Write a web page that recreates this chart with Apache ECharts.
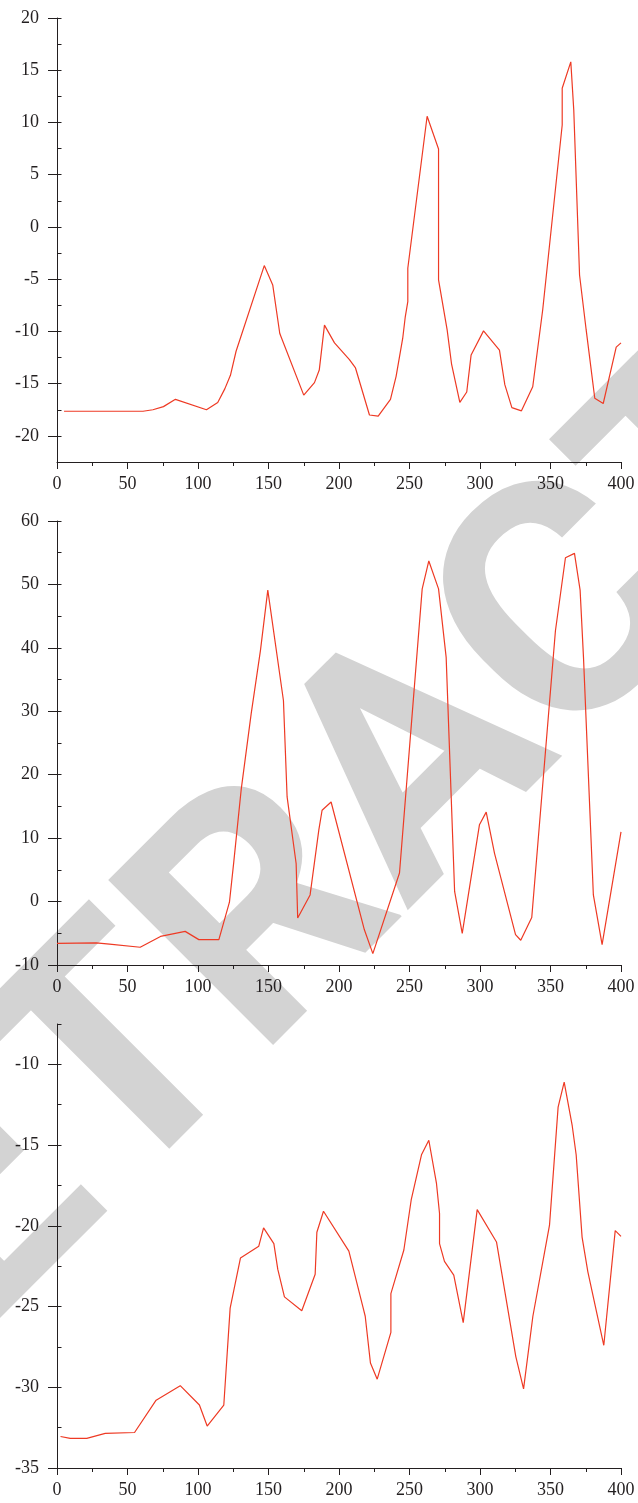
<!DOCTYPE html>
<html>
<head>
<meta charset="utf-8">
<script src="https://cdn.jsdelivr.net/npm/echarts@6/dist/echarts.min.js"></script>
<style>
html,body{margin:0;padding:0;background:#fff;}
#chart{width:638px;height:1503px;}
</style>
</head>
<body>
<div id="chart"></div>
<script>
// ---- data ----
const xTicks = [0, 50, 100, 150, 200, 250, 300, 350, 400];

const yTicks1 = [-20, -15, -10, -5, 0, 5, 10, 15, 20];
const x1 = [5, 61, 68, 75.5, 84, 106, 114, 119, 123, 127, 147, 153, 158, 175, 182.6, 186, 189.7, 196.8, 207.4, 211.7, 221.6, 227.8, 236.5, 240.5, 245.2, 247, 248.8, 248.8, 262.5, 270.6, 270.6, 276.7, 279.8, 285.7, 290.6, 293.7, 302.5, 313.8, 317.6, 322.6, 329.4, 337.4, 344.5, 358.3, 358.3, 364.4, 366.5, 370.6, 375.3, 381.4, 387.4, 396.6, 400];
const y1 = [-17.64, -17.64, -17.5, -17.2, -16.5, -17.5, -16.8, -15.5, -14.2, -11.9, -3.7, -5.55, -10.2, -16.1, -14.9, -13.7, -9.4, -11.1, -12.7, -13.5, -18.0, -18.1, -16.5, -14.3, -10.65, -8.6, -7.15, -3.95, 10.6, 7.46, -5.07, -9.86, -13.1, -16.8, -15.8, -12.25, -9.95, -11.8, -15.1, -17.3, -17.6, -15.3, -7.9, 9.76, 13.27, 15.8, 11.2, -4.6, -9.86, -16.4, -16.9, -11.5, -11.1];

const yTicks2 = [-10, 0, 10, 20, 30, 40, 50, 60];
const x2 = [0, 27.8, 37.2, 59, 73.4, 90.9, 100.6, 114.8, 122.3, 125.4, 130.6, 137.7, 144.3, 149.5, 160.6, 163.2, 169.6, 170.7, 179.5, 185.7, 188, 194.4, 218, 224, 242.9, 259, 263.7, 270.6, 276, 282, 287.4, 299.6, 304.4, 310.3, 325.2, 328.9, 336.7, 353.5, 360.6, 367, 371, 373.4, 380.4, 386.6, 400];
const y2 = [-6.6, -6.5, -6.7, -7.2, -5.5, -4.7, -6.0, -6.0, -0.1, 6.3, 17.6, 29.6, 39.6, 49.1, 31.7, 16.5, 6.0, -2.6, 1.05, 11.3, 14.4, 15.7, -4.45, -8.2, 4.5, 49.3, 53.7, 49.3, 38.5, 1.6, -5.0, 12.1, 14.1, 7.6, -5.2, -6.1, -2.5, 42.7, 54.2, 54.9, 49.1, 38.5, 1.05, -6.8, 11.0];

const yTicks3 = [-35, -30, -25, -20, -15, -10];
const x3 = [2.5, 9.4, 21.1, 34.2, 55, 70.3, 87.4, 101, 106.5, 118.3, 122.8, 130.1, 143.1, 146.5, 153.8, 156.6, 161.3, 173.6, 183.1, 184.3, 189, 207, 216.9, 218.6, 222.3, 227.1, 236.8, 236.8, 246, 251.2, 258.5, 263.7, 269.1, 271.3, 271.3, 274.8, 281.4, 288.1, 298, 311.7, 325.4, 330.9, 337.5, 349.3, 355.4, 359.7, 365.4, 368.2, 372.4, 376.5, 387.8, 395.9, 400];
const y3 = [-33.05, -33.17, -33.17, -32.86, -32.8, -30.8, -29.9, -31.1, -32.4, -31.1, -25.1, -22.0, -21.26, -20.13, -21.1, -22.7, -24.4, -25.26, -23.0, -20.4, -19.1, -21.57, -25.0, -25.6, -28.5, -29.5, -26.6, -24.2, -21.5, -18.4, -15.6, -14.7, -17.35, -19.24, -21.1, -22.2, -23.05, -26.0, -19.0, -21.0, -28.1, -30.1, -25.6, -19.96, -12.65, -11.1, -13.8, -15.6, -20.7, -22.85, -27.4, -20.3, -20.65];

const watermarkHead = 'RETR';
const watermarkTail = 'ACTED';

// ---- styling helpers ----
const INK = '#231f20';
const FONT = 'Liberation Serif';
const LINE = '#ee3a24';

function pairs(xs, ys) { return xs.map((x, i) => [x, ys[i]]); }

function xAxisDef(g) {
  return {
    type: 'value', gridIndex: g, min: 0, max: 400, interval: 50,
    axisLine: { show: true, onZero: false, lineStyle: { color: INK, width: 1 } },
    axisTick: { show: true, length: 7, lineStyle: { color: INK } },
    minorTick: { show: true, splitNumber: 2, length: 4, lineStyle: { color: INK } },
    axisLabel: { margin: 13, fontFamily: FONT, fontSize: 18, color: INK },
    splitLine: { show: false }
  };
}
function yMajor(g, min, max, ticks) {
  return {
    type: 'value', gridIndex: g, min: min, max: max,
    axisLine: { show: true, onZero: false, lineStyle: { color: INK, width: 1 } },
    axisTick: { show: true, length: 9, customValues: ticks, lineStyle: { color: INK } },
    axisLabel: { customValues: ticks, margin: 18, fontFamily: FONT, fontSize: 18, color: INK },
    splitLine: { show: false }
  };
}
function yMinor(g, min, max, step) {
  return {
    type: 'value', gridIndex: g, min: min, max: max, interval: step,
    axisLine: { show: false },
    axisTick: { show: true, length: 4.5, lineStyle: { color: INK } },
    axisLabel: { show: false },
    splitLine: { show: false }
  };
}
function lineSeries(g, yIdx, xs, ys) {
  return {
    type: 'line', xAxisIndex: g, yAxisIndex: yIdx, data: pairs(xs, ys),
    symbol: 'none', showSymbol: false, z: 5,
    lineStyle: { color: LINE, width: 1.2 }
  };
}
function wmText(txt, align) {
  return {
    type: 'text', x: 349, y: 853, rotation: Math.PI / 4, z: -10, silent: true,
    style: {
      text: txt, fill: '#d3d3d3',
      font: 'bold 328px Roboto',
      align: align, verticalAlign: 'middle',
      textAlign: align, textVerticalAlign: 'middle'
    }
  };
}

const chart = echarts.init(document.getElementById('chart'), null, { renderer: 'canvas' });
chart.setOption({
  animation: false,
  backgroundColor: '#ffffff',
  graphic: {
    z: -10,
    elements: [wmText(watermarkHead, 'right'), wmText(watermarkTail, 'left')]
  },
  grid: [
    { left: 57, width: 564, top: 18, height: 444 },
    { left: 57, width: 564, top: 521, height: 444 },
    { left: 57, width: 564, top: 1024, height: 444 }
  ],
  xAxis: [xAxisDef(0), xAxisDef(1), xAxisDef(2)],
  yAxis: [
    yMajor(0, -22.5, 20, yTicks1), yMinor(0, -22.5, 20, 2.5),
    yMajor(1, -10, 60, yTicks2), yMinor(1, -10, 60, 5),
    yMajor(2, -35, -7.5, yTicks3), yMinor(2, -35, -7.5, 2.5)
  ],
  series: [
    lineSeries(0, 0, x1, y1),
    lineSeries(1, 2, x2, y2),
    lineSeries(2, 4, x3, y3)
  ]
});
</script>
</body>
</html>
